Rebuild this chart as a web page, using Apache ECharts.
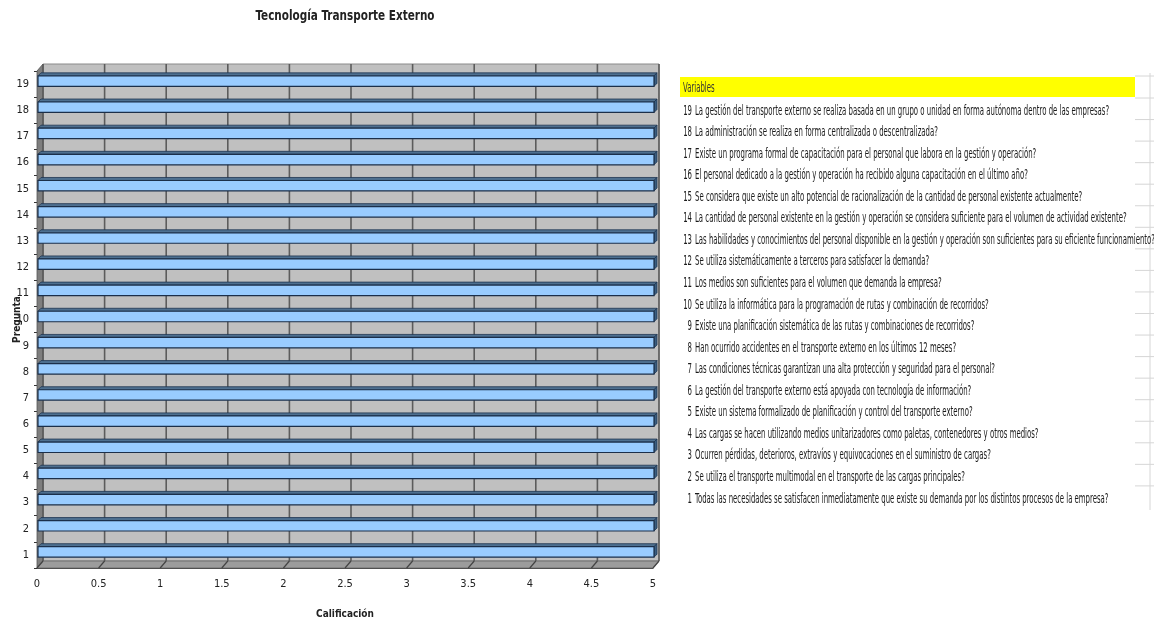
<!DOCTYPE html>
<html>
<head>
<meta charset="utf-8">
<script src="https://cdn.jsdelivr.net/npm/echarts@6/dist/echarts.min.js"></script>
<style>html,body{margin:0;padding:0;background:#fff;}#chart{width:1154px;height:622px;}</style>
</head>
<body>
<div id="chart"></div>
<script>
// ---------- data ----------
const categories = ['1','2','3','4','5','6','7','8','9','10','11','12','13','14','15','16','17','18','19'];
const values = [5,5,5,5,5,5,5,5,5,5,5,5,5,5,5,5,5,5,5];
const xTicks = [0,0.5,1,1.5,2,2.5,3,3.5,4,4.5,5];
const questionNumbers = ['19','18','17','16','15','14','13','12','11','10','9','8','7','6','5','4','3','2','1'];
const questionTexts = [
  'La gestión del transporte externo se realiza basada en un grupo o unidad en forma autónoma dentro de las empresas?',
  'La administración se realiza en forma centralizada o descentralizada?',
  'Existe un programa formal de capacitación para el personal que labora en la gestión y operación?',
  'El personal dedicado a la gestión y operación ha recibido alguna capacitación en el último año?',
  'Se considera que existe un alto potencial de racionalización de la cantidad de personal existente actualmente?',
  'La cantidad de personal existente en la gestión y operación se considera suficiente para el volumen de actividad existente?',
  'Las habilidades y conocimientos del personal disponible en la gestión y operación son suficientes para su eficiente funcionamiento?',
  'Se utiliza sistemáticamente a terceros para satisfacer la demanda?',
  'Los medios son suficientes para el volumen que demanda la empresa?',
  'Se utiliza la informática para la programación de rutas y combinación de recorridos?',
  'Existe una planificación sistemática de las rutas y combinaciones de recorridos?',
  'Han ocurrido accidentes en el transporte externo en los últimos 12 meses?',
  'Las condiciones técnicas garantizan una alta protección y seguridad para el personal?',
  'La gestión del transporte externo está apoyada con tecnología de información?',
  'Existe un sistema formalizado de planificación y control del transporte externo?',
  'Las cargas se hacen utilizando medios unitarizadores como paletas, contenedores y otros medios?',
  'Ocurren pérdidas, deterioros, extravíos y equivocaciones en el suministro de cargas?',
  'Se utiliza el transporte multimodal en el transporte de las cargas principales?',
  'Todas las necesidades se satisfacen inmediatamente que existe su demanda por los distintos procesos de la empresa?'
];
const titleText = 'Tecnología Transporte Externo';
const xName = 'Calificación';
const yName = 'Pregunta';
const tableHeader = 'Variables';

// ---------- style / layout ----------
const NARROW = "'Liberation Sans Narrow','DejaVu Sans Condensed','Arial Narrow',sans-serif";
const DX = 6, DY = -7;          // 3D depth of walls
const BDX = 3, BDY = -3;        // bar depth
function measure(text, size, weight) {
  const c = document.createElement('canvas').getContext('2d');
  c.font = (weight ? weight + ' ' : '') + size + 'px ' + NARROW;
  return c.measureText(text).width;
}
const TXT_SIZE = 14;
const txtScale = 460 / measure(questionTexts[6], TXT_SIZE);
const TITLE_SIZE = 14;
const titleScale = 179 / measure(titleText, TITLE_SIZE, 'bold');

const chart = echarts.init(document.getElementById('chart'), null, {renderer: 'canvas'});

function wallsRender(params, api) {
  const cs = params.coordSys;
  const x0 = cs.x, y0 = cs.y, x1 = cs.x + cs.width, y1 = cs.y + cs.height;
  const children = [];
  children.push({type: 'rect', shape: {x: x0 + DX, y: y0 + DY, width: cs.width, height: cs.height},
    style: {fill: '#C0C0C0', stroke: '#8A8A8A', lineWidth: 1}});
  children.push({type: 'polygon', shape: {points: [[x0, y0], [x0 + DX, y0 + DY], [x0 + DX, y1 + DY], [x0, y1]]},
    style: {fill: '#7E7E7E', stroke: '#555', lineWidth: 0.8}});
  children.push({type: 'polygon', shape: {points: [[x0, y1], [x0 + DX, y1 + DY], [x1 + DX, y1 + DY], [x1, y1]]},
    style: {fill: '#9C9C9C', stroke: '#666', lineWidth: 0.8}});
  xTicks.forEach(function (t) {
    const px = api.coord([t, 0])[0];
    children.push({type: 'line', shape: {x1: px + DX, y1: y0 + DY, x2: px + DX, y2: y1 + DY},
      style: {stroke: '#5C5C5C', lineWidth: 1.6}});
    children.push({type: 'line', shape: {x1: px + DX, y1: y1 + DY, x2: px, y2: y1},
      style: {stroke: '#444', lineWidth: 1.2}});
  });
  return {type: 'group', children: children};
}

function barRender(params, api) {
  const c = api.value(0), v = api.value(1);
  const p0 = api.coord([0, c]);
  const p1 = api.coord([v, c]);
  const band = api.size([0, 1])[1];
  const h = band * 0.4;
  const cy = p0[1] - 3;
  const xa = p0[0] + 1, xb = p1[0] + 1;
  const yt = cy - h / 2, yb = cy + h / 2;
  return {type: 'group', children: [
    {type: 'polygon', shape: {points: [[xa, yt], [xa + BDX, yt + BDY], [xb + BDX, yt + BDY], [xb, yt]]},
      style: {fill: '#4E7090', stroke: '#1E3550', lineWidth: 0.8}},
    {type: 'polygon', shape: {points: [[xb, yt], [xb + BDX, yt + BDY], [xb + BDX, yb + BDY], [xb, yb]]},
      style: {fill: '#3A5E80', stroke: '#1E3550', lineWidth: 0.8}},
    {type: 'rect', shape: {x: xa, y: yt, width: xb - xa, height: h},
      style: {fill: '#99CCFF', stroke: '#1B2F4A', lineWidth: 1.2}}
  ]};
}

// title and right-side table
const graphics = [];
graphics.push({type: 'text', x: 345, y: 16, scaleX: titleScale, z: 5,
  style: {text: titleText, fontSize: TITLE_SIZE, fontWeight: 'bold', fontFamily: NARROW, fill: '#222',
    textAlign: 'center', textVerticalAlign: 'middle'}});
graphics.push({type: 'rect', shape: {x: 680, y: 77, width: 455, height: 20}, style: {fill: '#FFFF00'}, z: 1});
graphics.push({type: 'text', x: 683, y: 88, scaleX: txtScale, z: 5,
  style: {text: tableHeader, fontSize: TXT_SIZE, fontFamily: NARROW, fill: '#333', textVerticalAlign: 'middle'}});
graphics.push({type: 'line', shape: {x1: 1150, y1: 73, x2: 1150, y2: 510}, style: {stroke: '#D6D6D6', lineWidth: 1}, z: 1});
graphics.push({type: 'line', shape: {x1: 1135, y1: 76, x2: 1154, y2: 76}, style: {stroke: '#D6D6D6', lineWidth: 1}, z: 1});
for (let k = 0; k < 19; k++) {
  const yl = 98 + k * 21.55;
  graphics.push({type: 'line', shape: {x1: 1135, y1: yl, x2: 1154, y2: yl}, style: {stroke: '#D6D6D6', lineWidth: 1}, z: 1});
}
questionTexts.forEach(function (t, i) {
  const y = 111 + i * 21.55;
  graphics.push({type: 'text', x: 692, y: y, scaleX: txtScale, z: 5,
    style: {text: questionNumbers[i], fontSize: TXT_SIZE, fontFamily: NARROW, fill: '#1A1A1A', textAlign: 'right', textVerticalAlign: 'middle'}});
  graphics.push({type: 'text', x: 695, y: y, scaleX: txtScale, z: 5,
    style: {text: t, fontSize: TXT_SIZE, fontFamily: NARROW, fill: '#1A1A1A', textAlign: 'left', textVerticalAlign: 'middle'}});
});

const option = {
  animation: false,
  backgroundColor: '#FFFFFF',
  grid: {left: 37, right: 501, top: 71, bottom: 54, containLabel: false, outerBoundsMode: 'none'},
  xAxis: {type: 'value', min: 0, max: 5, interval: 0.5,
    name: xName, nameLocation: 'middle', nameGap: 41, nameMoveOverlap: false,
    nameTextStyle: {fontFamily: NARROW, fontSize: 10, fontWeight: 'bold', color: '#222'},
    axisLine: {show: true, lineStyle: {color: '#444', width: 1}},
    axisTick: {show: false},
    splitLine: {show: false},
    axisLabel: {margin: 11, fontFamily: NARROW, fontSize: 11, color: '#222',
      formatter: function (v) { return String(v); }}
  },
  yAxis: {type: 'category', data: categories,
    name: yName, nameLocation: 'middle', nameGap: 15, nameMoveOverlap: false,
    nameTextStyle: {fontFamily: NARROW, fontSize: 10, fontWeight: 'bold', color: '#222'},
    axisLine: {show: true, lineStyle: {color: '#444', width: 1}},
    axisTick: {show: true, length: 3, lineStyle: {color: '#333'}},
    splitLine: {show: false},
    axisLabel: {margin: 8, fontFamily: NARROW, fontSize: 11, color: '#222'}
  },
  series: [
    {type: 'custom', name: 'walls', renderItem: wallsRender, data: [[0, 0]], z: 1, silent: true,
      encode: {x: 0, y: 1}, clip: false},
    {type: 'custom', name: 'Calificación', renderItem: barRender, z: 3,
      data: categories.map(function (c, i) { return [i, values[i]]; }),
      encode: {y: 0, x: 1}, clip: false}
  ],
  graphic: graphics
};
chart.setOption(option);
</script>
</body>
</html>
